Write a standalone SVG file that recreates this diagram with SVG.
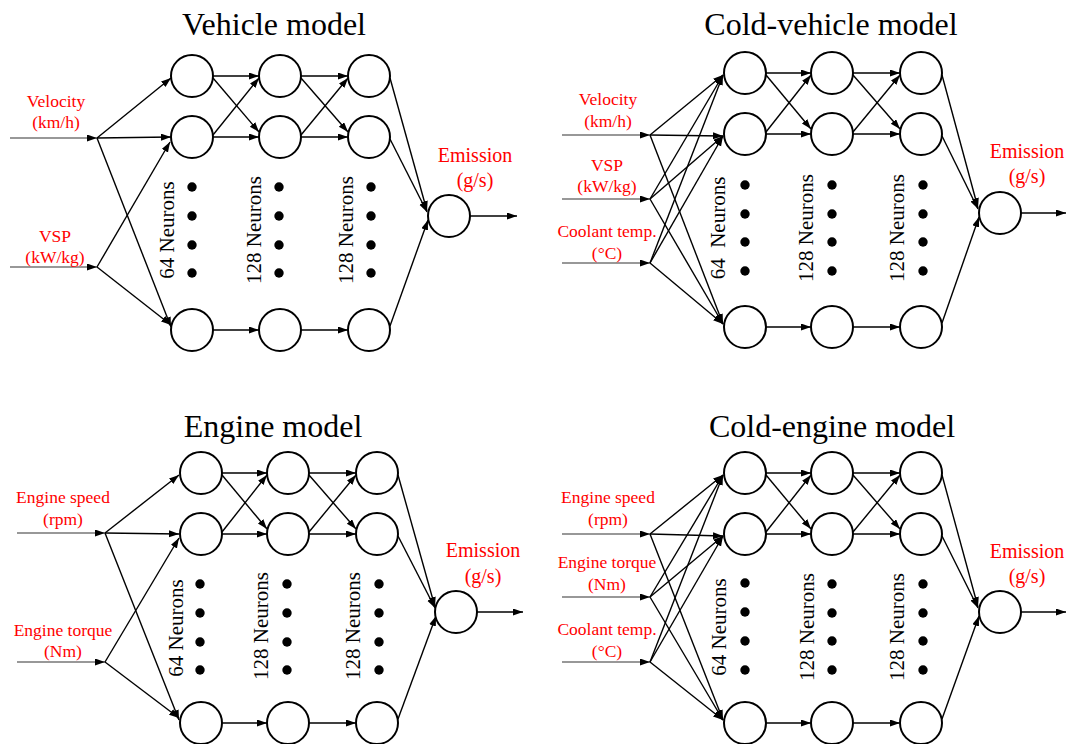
<svg xmlns="http://www.w3.org/2000/svg" width="1067" height="744" viewBox="0 0 1067 744">
<defs>
<marker id="ah" markerUnits="userSpaceOnUse" markerWidth="10" markerHeight="8" refX="10" refY="3.5" orient="auto">
<path d="M0,0 L10,3.5 L0,7 z" fill="#000"/>
</marker>
<style>
.title{font-family:"Liberation Serif","Times New Roman",serif;font-size:32px;fill:#000;text-anchor:middle}
.lab{font-family:"Liberation Serif","Times New Roman",serif;font-size:17.5px;fill:#ff0000;text-anchor:middle}
.em{font-family:"Liberation Serif","Times New Roman",serif;font-size:20px;fill:#ff0000;text-anchor:middle}
.neu{font-family:"Liberation Serif","Times New Roman",serif;font-size:21px;fill:#000;text-anchor:middle;white-space:pre}
.n{fill:#fff;stroke:#000;stroke-width:2}
.d{fill:#000}
.c path{fill:none;stroke:#000;stroke-width:1.4;marker-end:url(#ah)}
.c path.in{stroke-width:1.1;stroke:#333}
</style>
</defs>
<rect width="1067" height="744" fill="#fff"/>

<!-- ============ Panel 1: Vehicle model ============ -->
<g id="vehicle-model">
<text class="title" x="274" y="35">Vehicle model</text>
<g class="c" id="vehicle-connectors">
<path class="in" d="M10,138 H97"/>
<path class="in" d="M10,267 H97"/>
<path d="M97,138 L171,78"/>
<path d="M97,138 L171,137"/>
<path d="M97,138 L171,327"/>
<path d="M97,267 L170,142"/>
<path d="M97,267 L171,325"/>
<path d="M213,76 L259,76"/>
<path d="M213,78 L259,132"/>
<path d="M213,135 L259,78"/>
<path d="M213,137 L259,137"/>
<path d="M213,330 L259,330"/>
<path d="M301,76 L348,76"/>
<path d="M301,78 L348,132"/>
<path d="M301,135 L348,78"/>
<path d="M301,137 L348,137"/>
<path d="M301,330 L348,330"/>
<path d="M390,78 L427,211"/>
<path d="M390,139 L427,212"/>
<path d="M390,326 L428,220"/>
<path d="M470,216 L517,216"/>
</g>
<g id="v-in-velocity"><text class="lab" x="56" y="107">Velocity</text><text class="lab" x="56" y="128">(km/h)</text></g>
<g id="v-in-vsp"><text class="lab" x="55" y="242">VSP</text><text class="lab" x="55" y="263">(kW/kg)</text></g>
<g id="v-l1">
<circle class="n" cx="192" cy="76" r="21"/><circle class="n" cx="192" cy="137" r="21"/><circle class="n" cx="192" cy="330" r="21"/>
<circle class="d" cx="192" cy="187" r="4.7"/><circle class="d" cx="192" cy="216" r="4.7"/><circle class="d" cx="192" cy="245" r="4.7"/><circle class="d" cx="192" cy="273" r="4.7"/>
<text class="neu" transform="translate(174,230) rotate(-90)">64 Neurons</text>
</g>
<g id="v-l2">
<circle class="n" cx="280" cy="76" r="21"/><circle class="n" cx="280" cy="137" r="21"/><circle class="n" cx="280" cy="330" r="21"/>
<circle class="d" cx="279" cy="187" r="4.7"/><circle class="d" cx="279" cy="216" r="4.7"/><circle class="d" cx="279" cy="245" r="4.7"/><circle class="d" cx="279" cy="273" r="4.7"/>
<text class="neu" transform="translate(261,230) rotate(-90)">128 Neurons</text>
</g>
<g id="v-l3">
<circle class="n" cx="369" cy="76" r="21"/><circle class="n" cx="369" cy="137" r="21"/><circle class="n" cx="369" cy="330" r="21"/>
<circle class="d" cx="371" cy="187" r="4.7"/><circle class="d" cx="371" cy="216" r="4.7"/><circle class="d" cx="371" cy="245" r="4.7"/><circle class="d" cx="371" cy="273" r="4.7"/>
<text class="neu" transform="translate(353,230) rotate(-90)">128 Neurons</text>
</g>
<g id="v-out">
<circle class="n" cx="449" cy="216" r="21"/>
<text class="em" x="475" y="162">Emission</text><text class="em" x="475" y="187">(g/s)</text>
</g>
</g>

<!-- ============ Panel 2: Cold-vehicle model ============ -->
<g id="cold-vehicle-model">
<text class="title" x="831" y="35">Cold-vehicle model</text>
<g class="c" id="cold-vehicle-connectors">
<path class="in" d="M562,135 H650"/>
<path class="in" d="M562,199 H650"/>
<path class="in" d="M562,263 H650"/>
<path d="M650,135 L723,75"/>
<path d="M650,135 L723,136"/>
<path d="M650,135 L723,324"/>
<path d="M650,199 L723,75"/>
<path d="M650,199 L723,136"/>
<path d="M650,199 L723,324"/>
<path d="M650,263 L723,75"/>
<path d="M650,263 L723,136"/>
<path d="M650,263 L723,324"/>
<path d="M766,73 L811,73"/>
<path d="M766,75 L811,129"/>
<path d="M766,132 L811,75"/>
<path d="M766,134 L811,134"/>
<path d="M766,327 L811,327"/>
<path d="M853,73 L900,73"/>
<path d="M853,75 L900,129"/>
<path d="M853,132 L900,75"/>
<path d="M853,134 L900,134"/>
<path d="M853,327 L900,327"/>
<path d="M942,75 L978,208"/>
<path d="M942,136 L978,209"/>
<path d="M942,323 L979,217"/>
<path d="M1021,213 L1066,213"/>
</g>
<g id="cv-in-velocity"><text class="lab" x="608" y="105">Velocity</text><text class="lab" x="608" y="127">(km/h)</text></g>
<g id="cv-in-vsp"><text class="lab" x="607" y="171">VSP</text><text class="lab" x="607" y="192">(kW/kg)</text></g>
<g id="cv-in-coolant"><text class="lab" x="607" y="237">Coolant temp.</text><text class="lab" x="607" y="259">(°C)</text></g>
<g id="cv-l1">
<circle class="n" cx="745" cy="73" r="21"/><circle class="n" cx="745" cy="134" r="21"/><circle class="n" cx="745" cy="327" r="21"/>
<circle class="d" cx="745" cy="185" r="4.7"/><circle class="d" cx="745" cy="214" r="4.7"/><circle class="d" cx="745" cy="242" r="4.7"/><circle class="d" cx="745" cy="271" r="4.7"/>
<text class="neu" transform="translate(725,228) rotate(-90)">64  Neurons</text>
</g>
<g id="cv-l2">
<circle class="n" cx="832" cy="73" r="21"/><circle class="n" cx="832" cy="134" r="21"/><circle class="n" cx="832" cy="327" r="21"/>
<circle class="d" cx="832" cy="185" r="4.7"/><circle class="d" cx="832" cy="214" r="4.7"/><circle class="d" cx="832" cy="242" r="4.7"/><circle class="d" cx="832" cy="271" r="4.7"/>
<text class="neu" transform="translate(813,228) rotate(-90)">128 Neurons</text>
</g>
<g id="cv-l3">
<circle class="n" cx="921" cy="73" r="21"/><circle class="n" cx="921" cy="134" r="21"/><circle class="n" cx="921" cy="327" r="21"/>
<circle class="d" cx="923" cy="185" r="4.7"/><circle class="d" cx="923" cy="214" r="4.7"/><circle class="d" cx="923" cy="242" r="4.7"/><circle class="d" cx="923" cy="271" r="4.7"/>
<text class="neu" transform="translate(904,228) rotate(-90)">128 Neurons</text>
</g>
<g id="cv-out">
<circle class="n" cx="1000" cy="213" r="21"/>
<text class="em" x="1027" y="158">Emission</text><text class="em" x="1027" y="183">(g/s)</text>
</g>
</g>

<!-- ============ Panel 3: Engine model ============ -->
<g id="engine-model">
<text class="title" x="273" y="437">Engine model</text>
<g class="c" id="engine-connectors">
<path class="in" d="M17,533 H105"/>
<path class="in" d="M17,662 H105"/>
<path d="M105,533 L179,475"/>
<path d="M105,533 L179,534"/>
<path d="M105,533 L179,720"/>
<path d="M105,662 L179,538"/>
<path d="M105,662 L179,718"/>
<path d="M222,473 L267,473"/>
<path d="M222,475 L267,529"/>
<path d="M222,532 L267,475"/>
<path d="M222,534 L267,534"/>
<path d="M222,723 L267,723"/>
<path d="M309,473 L356,473"/>
<path d="M309,475 L356,529"/>
<path d="M309,532 L356,475"/>
<path d="M309,534 L356,534"/>
<path d="M309,723 L356,723"/>
<path d="M398,475 L435,607"/>
<path d="M398,536 L435,608"/>
<path d="M398,719 L436,616"/>
<path d="M477,612 L523,612"/>
</g>
<g id="e-in-speed"><text class="lab" x="63" y="503">Engine speed</text><text class="lab" x="63" y="525">(rpm)</text></g>
<g id="e-in-torque"><text class="lab" x="63" y="636">Engine torque</text><text class="lab" x="63" y="657">(Nm)</text></g>
<g id="e-l1">
<circle class="n" cx="201" cy="473" r="21"/><circle class="n" cx="201" cy="534" r="21"/><circle class="n" cx="201" cy="723" r="21"/>
<circle class="d" cx="200" cy="584" r="4.7"/><circle class="d" cx="200" cy="613" r="4.7"/><circle class="d" cx="200" cy="642" r="4.7"/><circle class="d" cx="200" cy="670" r="4.7"/>
<text class="neu" transform="translate(183,628) rotate(-90)">64 Neurons</text>
</g>
<g id="e-l2">
<circle class="n" cx="288" cy="473" r="21"/><circle class="n" cx="288" cy="534" r="21"/><circle class="n" cx="288" cy="723" r="21"/>
<circle class="d" cx="287" cy="584" r="4.7"/><circle class="d" cx="287" cy="613" r="4.7"/><circle class="d" cx="287" cy="642" r="4.7"/><circle class="d" cx="287" cy="670" r="4.7"/>
<text class="neu" transform="translate(268,626) rotate(-90)">128 Neurons</text>
</g>
<g id="e-l3">
<circle class="n" cx="377" cy="473" r="21"/><circle class="n" cx="377" cy="534" r="21"/><circle class="n" cx="377" cy="723" r="21"/>
<circle class="d" cx="379" cy="584" r="4.7"/><circle class="d" cx="379" cy="613" r="4.7"/><circle class="d" cx="379" cy="642" r="4.7"/><circle class="d" cx="379" cy="670" r="4.7"/>
<text class="neu" transform="translate(360,626) rotate(-90)">128 Neurons</text>
</g>
<g id="e-out">
<circle class="n" cx="456" cy="612" r="21"/>
<text class="em" x="483" y="557">Emission</text><text class="em" x="483" y="583">(g/s)</text>
</g>
</g>

<!-- ============ Panel 4: Cold-engine model ============ -->
<g id="cold-engine-model">
<text class="title" x="832" y="437">Cold-engine model</text>
<g class="c" id="cold-engine-connectors">
<path class="in" d="M562,534 H650"/>
<path class="in" d="M562,597 H650"/>
<path class="in" d="M562,662 H650"/>
<path d="M650,534 L723,475"/>
<path d="M650,534 L723,536"/>
<path d="M650,534 L723,720"/>
<path d="M650,597 L723,475"/>
<path d="M650,597 L723,536"/>
<path d="M650,597 L723,720"/>
<path d="M650,662 L723,475"/>
<path d="M650,662 L723,536"/>
<path d="M650,662 L723,720"/>
<path d="M766,473 L811,473"/>
<path d="M766,475 L811,529"/>
<path d="M766,532 L811,475"/>
<path d="M766,534 L811,534"/>
<path d="M766,723 L811,723"/>
<path d="M853,473 L900,473"/>
<path d="M853,475 L900,529"/>
<path d="M853,532 L900,475"/>
<path d="M853,534 L900,534"/>
<path d="M853,723 L900,723"/>
<path d="M942,475 L978,607"/>
<path d="M942,536 L978,608"/>
<path d="M942,719 L979,616"/>
<path d="M1021,612 L1066,612"/>
</g>
<g id="ce-in-speed"><text class="lab" x="608" y="503">Engine speed</text><text class="lab" x="608" y="525">(rpm)</text></g>
<g id="ce-in-torque"><text class="lab" x="607" y="568">Engine torque</text><text class="lab" x="607" y="590">(Nm)</text></g>
<g id="ce-in-coolant"><text class="lab" x="607" y="635">Coolant temp.</text><text class="lab" x="607" y="657">(°C)</text></g>
<g id="ce-l1">
<circle class="n" cx="745" cy="473" r="21"/><circle class="n" cx="745" cy="534" r="21"/><circle class="n" cx="745" cy="723" r="21"/>
<circle class="d" cx="745" cy="583" r="4.7"/><circle class="d" cx="745" cy="612" r="4.7"/><circle class="d" cx="745" cy="641" r="4.7"/><circle class="d" cx="745" cy="670" r="4.7"/>
<text class="neu" transform="translate(726,627) rotate(-90)">64 Neurons</text>
</g>
<g id="ce-l2">
<circle class="n" cx="832" cy="473" r="21"/><circle class="n" cx="832" cy="534" r="21"/><circle class="n" cx="832" cy="723" r="21"/>
<circle class="d" cx="832" cy="584" r="4.7"/><circle class="d" cx="832" cy="613" r="4.7"/><circle class="d" cx="832" cy="641" r="4.7"/><circle class="d" cx="832" cy="670" r="4.7"/>
<text class="neu" transform="translate(814,627) rotate(-90)">128 Neurons</text>
</g>
<g id="ce-l3">
<circle class="n" cx="921" cy="473" r="21"/><circle class="n" cx="921" cy="534" r="21"/><circle class="n" cx="921" cy="723" r="21"/>
<circle class="d" cx="923" cy="584" r="4.7"/><circle class="d" cx="923" cy="613" r="4.7"/><circle class="d" cx="923" cy="641" r="4.7"/><circle class="d" cx="923" cy="670" r="4.7"/>
<text class="neu" transform="translate(904,627) rotate(-90)">128 Neurons</text>
</g>
<g id="ce-out">
<circle class="n" cx="1000" cy="612" r="21"/>
<text class="em" x="1027" y="558">Emission</text><text class="em" x="1027" y="583">(g/s)</text>
</g>
</g>
</svg>
